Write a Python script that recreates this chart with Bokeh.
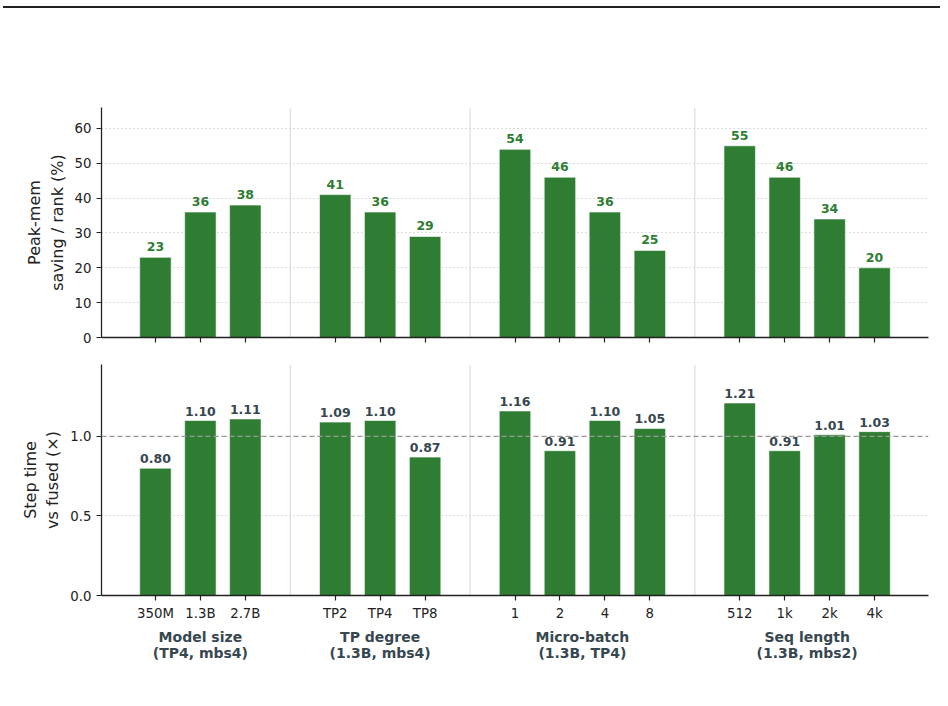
from bokeh.plotting import figure
from bokeh.models import (Span, FixedTicker, LinearAxis, Range1d, ColumnDataSource,
                          Div, PrintfTickFormatter)
from bokeh.layouts import column
from bokeh.core.properties import value
from bokeh.embed import file_html
from bokeh.resources import INLINE

# ---- data -------------------------------------------------------------
group_names = ["Model size\n(TP4, mbs4)", "TP degree\n(1.3B, mbs4)",
               "Micro-batch\n(1.3B, TP4)", "Seq length\n(1.3B, mbs2)"]
group_sizes = [3, 3, 4, 4]
tick_labels = ["350M", "1.3B", "2.7B",
               "TP2", "TP4", "TP8",
               "1", "2", "4", "8",
               "512", "1k", "2k", "4k"]
mem_saving = [23, 36, 38, 41, 36, 29, 54, 46, 36, 25, 55, 46, 34, 20]
step_ratio = [0.80, 1.10, 1.11, 1.09, 1.10, 0.87, 1.16, 0.91, 1.10, 1.05,
              1.21, 0.91, 1.01, 1.03]

# ---- layout of bar slots: one empty slot between groups ----------------
xs, centers, separators = [], [], []
start = 0
for n in group_sizes:
    slots = list(range(start, start + n))
    xs += slots
    centers.append(sum(slots) / n)
    start += n + 1
    separators.append(start - 1)
separators = separators[:-1]

src = ColumnDataSource(dict(
    x=xs, mem=mem_saving, step=step_ratio,
    mem_lbl=[f"{v:.0f}" for v in mem_saving],
    step_lbl=[f"{v:.2f}" for v in step_ratio],
))

FONT = "DejaVu Sans"
BAR = "#2e7d32"
SLATE = "#37474f"
INK = "#222222"

x_range = Range1d(-1.2, xs[-1] + 1.2)


def style(p, yticks):
    p.outline_line_color = None
    p.xgrid.visible = False
    p.ygrid.ticker = FixedTicker(ticks=yticks)
    p.ygrid.grid_line_color = "#b8b8b8"
    p.ygrid.grid_line_dash = "1 3"
    p.ygrid.grid_line_width = 1
    for ax in (p.xaxis[0], p.yaxis[0]):
        ax.axis_line_color = INK
        ax.axis_line_width = 1.3
        ax.major_tick_line_color = INK
        ax.major_tick_line_width = 1.2
        ax.major_tick_out = 5
        ax.major_tick_in = 0
        ax.minor_tick_line_color = None
        ax.major_label_text_font = FONT
        ax.major_label_text_font_size = "13.3px"
        ax.major_label_text_color = INK
        ax.axis_label_text_font = FONT
        ax.axis_label_text_font_style = "normal"
        ax.axis_label_text_font_size = "16px"
        ax.axis_label_text_color = INK
    p.yaxis.ticker = FixedTicker(ticks=yticks)
    p.xaxis.ticker = FixedTicker(ticks=xs)
    for s in separators:
        p.add_layout(Span(location=s, dimension="height", line_color="#dddddd",
                          line_width=1.2, level="underlay"))


# ---- top panel: peak memory saving -------------------------------------
p1 = figure(width=948, height=340, x_range=x_range,
            y_range=Range1d(0, max(mem_saving) * 1.2),
            output_backend="svg", toolbar_location=None,
            min_border_left=101, min_border_right=20,
            min_border_top=97, min_border_bottom=13)
style(p1, [0, 10, 20, 30, 40, 50, 60])
p1.xaxis.major_label_overrides = {x: "" for x in xs}
p1.xaxis.major_label_standoff = 0
p1.yaxis.axis_label = "Peak-mem\nsaving / rank (%)"
p1.yaxis.axis_label_standoff = 5
p1.vbar(x="x", top="mem", width=0.7, source=src, fill_color=BAR,
        line_color="white", line_width=0.6)
p1.text(x="x", y="mem", text="mem_lbl", source=src, text_align="center",
        text_baseline="bottom", y_offset=-6, text_font=value(FONT),
        text_font_style="bold", text_font_size="12.5px", text_color=BAR)

# ---- bottom panel: step time relative to fused -------------------------
p2 = figure(width=948, height=356, x_range=x_range,
            y_range=Range1d(0, max(step_ratio) * 1.2),
            output_backend="svg", toolbar_location=None,
            min_border_left=101, min_border_right=20,
            min_border_top=14, min_border_bottom=111)
style(p2, [0, 0.5, 1.0])
p2.yaxis.formatter = PrintfTickFormatter(format="%.1f")
p2.xaxis.major_label_overrides = {x: t for x, t in zip(xs, tick_labels)}
p2.xaxis.major_label_standoff = 5
p2.yaxis.axis_label = "Step time\nvs fused (\u00d7)"
p2.yaxis.axis_label_standoff = 5
p2.add_layout(Span(location=1.0, dimension="width", line_color="#999999",
                   line_dash="5 3", line_width=1.2))
p2.vbar(x="x", top="step", width=0.7, source=src, fill_color=BAR,
        line_color="white", line_width=0.6)
p2.text(x="x", y="step", text="step_lbl", source=src, text_align="center",
        text_baseline="bottom", y_offset=-5, text_font=value(FONT),
        text_font_style="bold", text_font_size="12.5px", text_color=SLATE)

group_axis = LinearAxis(
    ticker=FixedTicker(ticks=centers),
    major_label_overrides={c: g for c, g in zip(centers, group_names)},
    axis_line_color=None, major_tick_line_color=None, major_tick_out=0,
    major_tick_in=0, minor_tick_line_color=None, major_label_standoff=5,
    major_label_text_font=FONT, major_label_text_font_style="bold",
    major_label_text_font_size="14px", major_label_text_color=SLATE,
    major_label_text_line_height=1.05,
)
p2.add_layout(group_axis, "below")

# header rule above the panels
rule = Div(text="", width=937, height=4, margin=(6, 8, 0, 3),
           styles={"border-top": "2px solid #222222"})

layout = column(rule, p1, p2)
open("out.html", "w").write(file_html(layout, INLINE))
